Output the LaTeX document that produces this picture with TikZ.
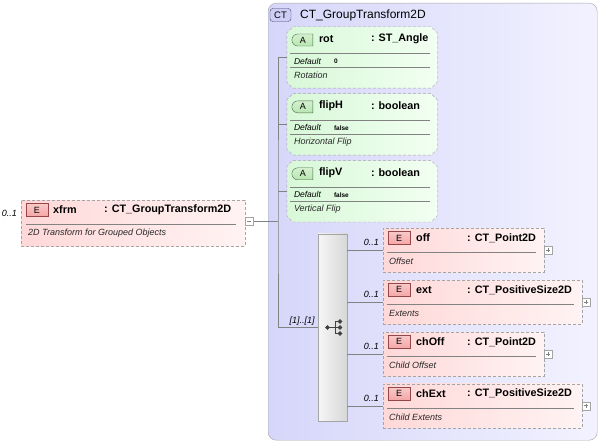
\documentclass[tikz,border=0pt]{standalone}
\usepackage{fontspec}
\setmainfont{Liberation Sans}
\usetikzlibrary{shapes, shapes.misc, positioning}

\definecolor{boxgray}{RGB}{165,165,165}
\definecolor{linegray}{RGB}{130,130,130}
\definecolor{ctleft}{RGB}{214,214,250}
\definecolor{ctright}{RGB}{242,242,255}
\definecolor{pinkleft}{RGB}{255,216,216}
\definecolor{pinkright}{RGB}{255,243,243}
\definecolor{greenleft}{RGB}{216,248,216}
\definecolor{greenright}{RGB}{242,255,242}
\definecolor{ebadge}{RGB}{244,166,166}
\definecolor{eborder}{RGB}{150,70,70}
\definecolor{abadge}{RGB}{184,230,176}
\definecolor{aborder}{RGB}{70,110,70}
\definecolor{ctbadge}{RGB}{205,205,245}
\definecolor{ctborder}{RGB}{70,70,110}
\definecolor{seqleft}{RGB}{246,246,246}
\definecolor{seqright}{RGB}{215,215,215}
\definecolor{desctext}{RGB}{40,40,40}

\begin{document}
\begin{tikzpicture}[x=1pt, y=1pt,
ct/.style={rectangle, rounded corners=8pt, draw=boxgray, left color=ctleft, right color=ctright,
minimum width=329pt, minimum height=437pt, anchor=north west, inner sep=0},
ct-badge/.style={rectangle, rounded corners=3pt, draw=ctborder, fill=ctbadge, minimum width=21pt,
minimum height=13pt, inner sep=0, font=\fontsize{9.5}{11}\selectfont},
elem/.style={rectangle, draw=boxgray, dash pattern=on 3pt off 2pt, left color=pinkleft, right color=pinkright,
minimum height=44pt, anchor=north west, inner sep=0},
attr/.style={rectangle, minimum width=150pt, minimum height=61pt, inner sep=0},
attr-frame/.style={draw=boxgray, dash pattern=on 3pt off 2pt, left color=greenleft, right color=greenright},
badge-e/.style={rectangle, draw=eborder, top color=ebadge!60, bottom color=ebadge, minimum width=22pt,
minimum height=13pt, inner sep=0, font=\fontsize{9}{10}\selectfont},
badge-a/.style={rounded rectangle, rounded rectangle right arc=none, draw=aborder, top color=abadge!60,
bottom color=abadge, minimum width=21pt, minimum height=12pt, inner sep=0, font=\fontsize{9}{10}\selectfont},
txt-name/.style={anchor=west, inner sep=0, font=\bfseries\fontsize{10.8}{12}\selectfont},
txt-type/.style={txt-name},
txt-def/.style={anchor=west, inner sep=0, font=\itshape\fontsize{8.5}{10}\selectfont},
txt-val/.style={anchor=west, inner sep=0, font=\bfseries\fontsize{6.5}{8}\selectfont},
txt-desc/.style={anchor=west, inner sep=0, text=desctext, font=\itshape\fontsize{9}{10}\selectfont},
txt-mult/.style={anchor=east, inner sep=0, font=\itshape\fontsize{9}{10}\selectfont},
button/.style={rectangle, draw=boxgray, fill=white, minimum size=8pt, inner sep=0},
btn-plus/.style={button, path picture={\draw [linegray, line width=0.5pt]
([xshift=2pt]path picture bounding box.west) -- ([xshift=-2pt]path picture bounding box.east)
([yshift=-2pt]path picture bounding box.north) -- ([yshift=2pt]path picture bounding box.south);}},
btn-minus/.style={button, path picture={\draw [linegray, line width=0.5pt]
([xshift=2pt]path picture bounding box.west) -- ([xshift=-2pt]path picture bounding box.east);}},
seq/.style={rectangle, draw=boxgray, left color=seqleft, right color=seqright, minimum width=29pt,
minimum height=187pt, inner sep=0},
sepline/.style={draw=linegray, line width=0.5pt},
line/.style={draw=linegray, line width=0.6pt},
icon/.style={draw=black!75, fill=black!75, line width=0.8pt}
]
\useasboundingbox (0,0) rectangle (599,-443);

% complex type frame
\node [ct] (ct) at (268,-3) {};
\node [ct-badge] (ct-badge) at ([shift={(12.5,-12)}]ct.north west) {CT};
\node [anchor=west, inner sep=0, font=\fontsize{12}{14}\selectfont] (ct-title)
at ([shift={(32,-12)}]ct.north west) {CT\_GroupTransform2D};

% xfrm
\node [elem, minimum width=224pt, minimum height=46pt] (xfrm) at (21,-200) {};
\node [badge-e] (xfrm-e) at ([shift={(16,-10)}]xfrm.north west) {E};
\node [txt-name] (xfrm-name) at ([shift={(32,-10)}]xfrm.north west) {xfrm};
\node [txt-type] (xfrm-type) at ([shift={(83,-10)}]xfrm.north west) {: CT\_GroupTransform2D};
\draw [sepline] ([shift={(5,-24)}]xfrm.north west) -- ([shift={(-9,-24)}]xfrm.north east);
\node [txt-desc] (xfrm-desc) at ([shift={(7,-33)}]xfrm.north west) {2D Transform for Grouped Objects};
\node [btn-minus] (xfrm-btn) at ([shift={(4,-21)}]xfrm.north east) {};
\node [txt-mult] (xfrm-mult) at ([shift={(-4,-13)}]xfrm.north west) {0..1};

% attributes
\node [attr] (rot) at (362,-57.5) {};
\draw [attr-frame] ([xshift=6pt]rot.north west) -- ([xshift=-6pt]rot.north east) -- ([yshift=-6pt]rot.north east)
-- ([yshift=6pt]rot.south east) -- ([xshift=-6pt]rot.south east) -- ([xshift=6pt]rot.south west)
-- ([yshift=6pt]rot.south west) -- ([yshift=-6pt]rot.north west) -- cycle;
\node [badge-a] (rot-a) at ([shift={(16,17.5)}]rot.west) {A};
\node [txt-name] (rot-name) at ([shift={(32,18.5)}]rot.west) {rot};
\node [txt-type] (rot-type) at ([shift={(84,18.5)}]rot.west) {: ST\_Angle};
\draw [sepline] ([shift={(3,4.5)}]rot.west) -- ([shift={(-7,4.5)}]rot.east);
\node [txt-def] (rot-def) at ([shift={(7,-3.5)}]rot.west) {Default};
\node [txt-val] (rot-val) at ([shift={(47,-3.5)}]rot.west) {0};
\draw [sepline] ([shift={(3,-9.5)}]rot.west) -- ([shift={(-7,-9.5)}]rot.east);
\node [txt-desc] (rot-desc) at ([shift={(7,-17.5)}]rot.west) {Rotation};

\node [attr, below=5.5pt of rot] (flipH) {};
\draw [attr-frame] ([xshift=6pt]flipH.north west) -- ([xshift=-6pt]flipH.north east) -- ([yshift=-6pt]flipH.north east)
-- ([yshift=6pt]flipH.south east) -- ([xshift=-6pt]flipH.south east) -- ([xshift=6pt]flipH.south west)
-- ([yshift=6pt]flipH.south west) -- ([yshift=-6pt]flipH.north west) -- cycle;
\node [badge-a] (flipH-a) at ([shift={(16,17.5)}]flipH.west) {A};
\node [txt-name] (flipH-name) at ([shift={(32,18.5)}]flipH.west) {flipH};
\node [txt-type] (flipH-type) at ([shift={(84,18.5)}]flipH.west) {: boolean};
\draw [sepline] ([shift={(3,4.5)}]flipH.west) -- ([shift={(-7,4.5)}]flipH.east);
\node [txt-def] (flipH-def) at ([shift={(7,-3.5)}]flipH.west) {Default};
\node [txt-val] (flipH-val) at ([shift={(47,-3.5)}]flipH.west) {false};
\draw [sepline] ([shift={(3,-9.5)}]flipH.west) -- ([shift={(-7,-9.5)}]flipH.east);
\node [txt-desc] (flipH-desc) at ([shift={(7,-17.5)}]flipH.west) {Horizontal Flip};

\node [attr, below=5.5pt of flipH] (flipV) {};
\draw [attr-frame] ([xshift=6pt]flipV.north west) -- ([xshift=-6pt]flipV.north east) -- ([yshift=-6pt]flipV.north east)
-- ([yshift=6pt]flipV.south east) -- ([xshift=-6pt]flipV.south east) -- ([xshift=6pt]flipV.south west)
-- ([yshift=6pt]flipV.south west) -- ([yshift=-6pt]flipV.north west) -- cycle;
\node [badge-a] (flipV-a) at ([shift={(16,17.5)}]flipV.west) {A};
\node [txt-name] (flipV-name) at ([shift={(32,18.5)}]flipV.west) {flipV};
\node [txt-type] (flipV-type) at ([shift={(84,18.5)}]flipV.west) {: boolean};
\draw [sepline] ([shift={(3,4.5)}]flipV.west) -- ([shift={(-7,4.5)}]flipV.east);
\node [txt-def] (flipV-def) at ([shift={(7,-3.5)}]flipV.west) {Default};
\node [txt-val] (flipV-val) at ([shift={(47,-3.5)}]flipV.west) {false};
\draw [sepline] ([shift={(3,-9.5)}]flipV.west) -- ([shift={(-7,-9.5)}]flipV.east);
\node [txt-desc] (flipV-desc) at ([shift={(7,-17.5)}]flipV.west) {Vertical Flip};

% sequence
\node [seq] (seq) at (332.5,-327.5) {};
\draw [icon] ([xshift=-5pt]seq.center) -- ([xshift=2.5pt]seq.center)
([shift={(2.5,6)}]seq.center) -- ([shift={(2.5,-6)}]seq.center)
([shift={(2.5,6)}]seq.center) -- ([shift={(7.5,6)}]seq.center)
([shift={(2.5,0)}]seq.center) -- ([shift={(7.5,0)}]seq.center)
([shift={(2.5,-6)}]seq.center) -- ([shift={(7.5,-6)}]seq.center);
\fill [icon] ([xshift=-5pt]seq.center) circle (1.8pt) ([shift={(7.5,6)}]seq.center) circle (1.8pt)
([shift={(7.5,0)}]seq.center) circle (1.8pt) ([shift={(7.5,-6)}]seq.center) circle (1.8pt);
\node [txt-mult, anchor=south east] (seq-mult) at ([shift={(-3,1.5)}]seq.west) {[1]..[1]};

% child elements
\node [elem, minimum width=161pt] (off) at (383,-228) {};
\node [badge-e] (off-e) at ([shift={(16,-10)}]off.north west) {E};
\node [txt-name] (off-name) at ([shift={(33,-10)}]off.north west) {off};
\node [txt-type] (off-type) at ([shift={(84,-10)}]off.north west) {: CT\_Point2D};
\draw [sepline] ([shift={(4,-24.5)}]off.north west) -- ([shift={(-8,-24.5)}]off.north east);
\node [txt-desc] (off-desc) at ([shift={(6,-33.5)}]off.north west) {Offset};
\node [btn-plus] (off-btn) at ([shift={(4,-22)}]off.north east) {};
\node [txt-mult] (off-mult) at ([shift={(-4,-14.5)}]off.north west) {0..1};

\node [elem, minimum width=199pt, below=7.5pt of off.south west, anchor=north west] (ext) {};
\node [badge-e] (ext-e) at ([shift={(16,-10)}]ext.north west) {E};
\node [txt-name] (ext-name) at ([shift={(33,-10)}]ext.north west) {ext};
\node [txt-type] (ext-type) at ([shift={(84,-10)}]ext.north west) {: CT\_PositiveSize2D};
\draw [sepline] ([shift={(4,-24.5)}]ext.north west) -- ([shift={(-8,-24.5)}]ext.north east);
\node [txt-desc] (ext-desc) at ([shift={(6,-33.5)}]ext.north west) {Extents};
\node [btn-plus] (ext-btn) at ([shift={(4,-22)}]ext.north east) {};
\node [txt-mult] (ext-mult) at ([shift={(-4,-14.5)}]ext.north west) {0..1};

\node [elem, minimum width=161pt, below=7.5pt of ext.south west, anchor=north west] (chOff) {};
\node [badge-e] (chOff-e) at ([shift={(16,-10)}]chOff.north west) {E};
\node [txt-name] (chOff-name) at ([shift={(33,-10)}]chOff.north west) {chOff};
\node [txt-type] (chOff-type) at ([shift={(84,-10)}]chOff.north west) {: CT\_Point2D};
\draw [sepline] ([shift={(4,-24.5)}]chOff.north west) -- ([shift={(-8,-24.5)}]chOff.north east);
\node [txt-desc] (chOff-desc) at ([shift={(6,-33.5)}]chOff.north west) {Child Offset};
\node [btn-plus] (chOff-btn) at ([shift={(4,-22)}]chOff.north east) {};
\node [txt-mult] (chOff-mult) at ([shift={(-4,-14.5)}]chOff.north west) {0..1};

\node [elem, minimum width=199pt, below=7.5pt of chOff.south west, anchor=north west] (chExt) {};
\node [badge-e] (chExt-e) at ([shift={(16,-10)}]chExt.north west) {E};
\node [txt-name] (chExt-name) at ([shift={(33,-10)}]chExt.north west) {chExt};
\node [txt-type] (chExt-type) at ([shift={(84,-10)}]chExt.north west) {: CT\_PositiveSize2D};
\draw [sepline] ([shift={(4,-24.5)}]chExt.north west) -- ([shift={(-8,-24.5)}]chExt.north east);
\node [txt-desc] (chExt-desc) at ([shift={(6,-33.5)}]chExt.north west) {Child Extents};
\node [btn-plus] (chExt-btn) at ([shift={(4,-22)}]chExt.north east) {};
\node [txt-mult] (chExt-mult) at ([shift={(-4,-14.5)}]chExt.north west) {0..1};

% connectors
\coordinate (fork) at (278,-221);
\draw [line] (xfrm-btn.east) -- (fork);
\draw [line] (rot.west) -| (fork) |- (seq.west);
\draw [line] (flipH.west) -- (flipH.west -| fork);
\draw [line] (flipV.west) -- (flipV.west -| fork);
\draw [line] (seq.east |- off.west) -- (off.west);
\draw [line] (seq.east |- ext.west) -- (ext.west);
\draw [line] (seq.east |- chOff.west) -- (chOff.west);
\draw [line] (seq.east |- chExt.west) -- (chExt.west);

\end{tikzpicture}
\end{document}
